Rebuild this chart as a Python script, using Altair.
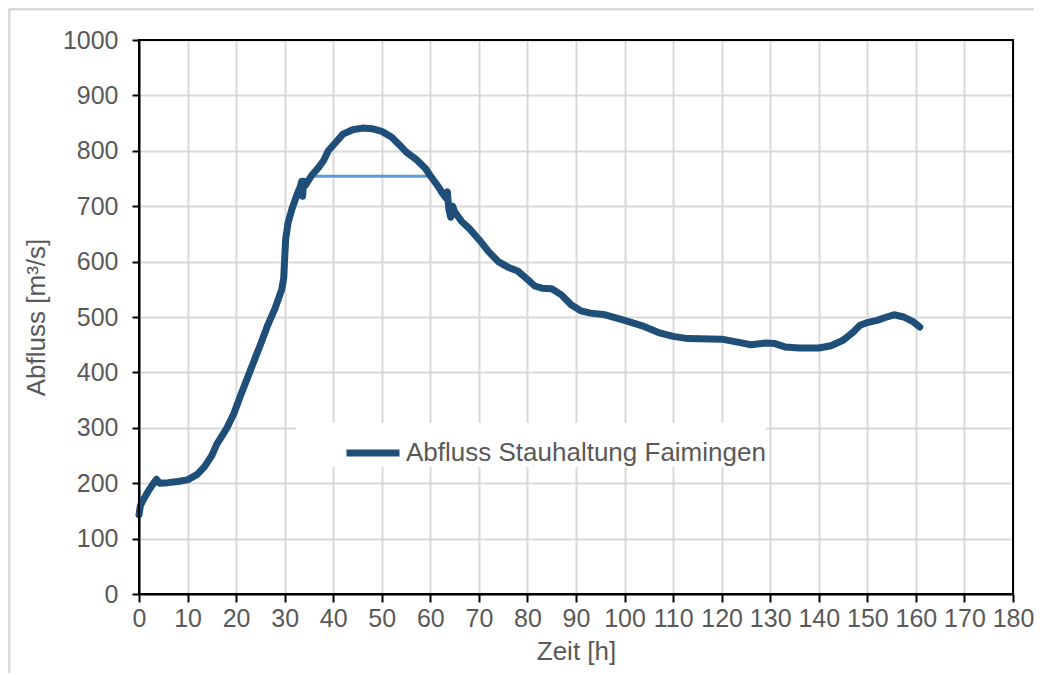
import altair as alt
import pandas as pd

# Hydrograph values
zeit_h = [0, 0.3, 1.0, 2.0, 3.0, 3.6, 4.2, 6.0, 8.0, 10.0, 12.0, 13.5, 15.0, 16.0, 18.0,
          19.5, 21.0, 23.0, 25.0, 26.5, 28.0, 29.4, 29.8, 30.2, 30.7, 31.5, 32.5, 33.2,
          33.5, 33.7, 33.9, 34.3, 35.5, 37.0, 38.0, 39.0, 40.5, 42.0, 44.0, 46.0, 48.0,
          50.0, 52.0, 53.5, 55.0, 57.0, 59.0, 60.0, 61.5, 62.6, 63.2, 63.5, 63.8, 64.2,
          64.6, 65.0, 66.5, 68.0, 70.0, 72.0, 74.0, 76.0, 78.0, 80.0, 81.5, 83.0, 85.0,
          87.0, 89.0, 91.0, 93.0, 96.0, 100.0, 104.0, 107.0, 110.0, 113.0, 120.0, 123.0,
          126.0, 129.0, 131.0, 133.0, 136.0, 140.0, 142.5, 145.0, 147.0, 148.5, 150.0,
          152.0, 154.0, 155.5, 157.5, 159.5, 160.8]
abfluss = [143, 160, 172, 187, 200, 207, 200, 201, 203, 206, 216, 230, 250, 270, 298,
           325, 360, 405, 450, 485, 515, 550, 570, 640, 670, 695, 720, 735,
           745, 718, 745, 738, 755, 770, 782, 800, 815, 830, 838, 841, 840,
           835, 825, 812, 798, 785, 768, 755, 737, 722, 715, 726, 695, 680,
           700, 690, 672, 660, 640, 618, 600, 590, 583, 568, 556, 552, 551,
           540, 522, 511, 507, 504, 494, 483, 472, 465, 461, 460, 455,
           450, 453, 452, 446, 444, 444, 448, 458, 472, 485, 490,
           494, 500, 504, 500, 491, 482]
series_name = "Abfluss Stauhaltung Faimingen"

# Horizontal reference line
ref_t = [35.4, 59.9]
ref_v = [754, 754]

x_ticks = list(range(0, 181, 10))
y_ticks = list(range(0, 1001, 100))

FONT = "Liberation Sans"
GREY = "#595959"

df = pd.DataFrame({"t": zeit_h, "v": abfluss, "s": series_name})
ref = pd.DataFrame({"t": ref_t, "v": ref_v})
frame = pd.DataFrame({"a": [0]})

xscale = alt.Scale(domain=[0, 180], nice=False)
yscale = alt.Scale(domain=[0, 1000], nice=False)

xaxis = alt.Axis(values=x_ticks, title="Zeit [h]", labelFlush=False, labelOverlap=False,
                 format="d",
                 tickSize=8, tickWidth=2, tickColor="black", domainColor="black",
                 domainWidth=2, labelPadding=4, titlePadding=7,
                 gridColor="#D9D9D9", gridWidth=2)
yaxis = alt.Axis(values=y_ticks, title="Abfluss [m³/s]", labelOverlap=False,
                 format="d",
                 tickSize=7, tickWidth=2, tickColor="black", domainColor="black",
                 domainWidth=2, labelPadding=14, titlePadding=13,
                 gridColor="#D9D9D9", gridWidth=2)

ref_line = alt.Chart(ref).mark_line(color="#5B9BD5", strokeWidth=3).encode(
    x=alt.X("t:Q", scale=xscale, axis=xaxis),
    y=alt.Y("v:Q", scale=yscale, axis=yaxis),
)

main_line = alt.Chart(df).mark_line(strokeWidth=7, strokeCap="round", strokeJoin="round").encode(
    x=alt.X("t:Q", scale=xscale),
    y=alt.Y("v:Q", scale=yscale),
    order="t:Q",
    color=alt.Color("s:N", scale=alt.Scale(domain=[series_name], range=["#1F4E79"]),
                    legend=alt.Legend(title=None, orient="none", legendX=157, legendY=383,
                                      padding=0, fillColor="white", symbolType="stroke",
                                      symbolSize=2809, symbolStrokeWidth=7, symbolOffset=47,
                                      labelOffset=3, labelFontSize=26, labelFont=FONT,
                                      labelColor=GREY, labelLimit=700,
                                      labelExpr="datum.label + '    '")),
)

plot_frame = alt.Chart(frame).mark_rect(fill=None, stroke="black", strokeWidth=2).encode(
    x=alt.datum(0, scale=xscale), x2=alt.datum(180),
    y=alt.datum(0, scale=yscale), y2=alt.datum(1000),
)

outer_top = alt.Chart(frame).mark_rule(color="#D9D9D9", strokeWidth=3).encode(
    x=alt.value(-130), x2=alt.value(1500), y=alt.value(-31),
)
outer_left = alt.Chart(frame).mark_rule(color="#D9D9D9", strokeWidth=3).encode(
    x=alt.value(-130), y=alt.value(-31), y2=alt.value(1500),
)

chart = alt.layer(ref_line, main_line, plot_frame, outer_top, outer_left).properties(
    width=874, height=554,
    autosize=alt.AutoSizeParams(type="none"),
    padding={"left": 131, "top": 32, "right": 21, "bottom": 79},
    background="white",
).configure_view(stroke=None).configure_axis(
    labelFont=FONT, titleFont=FONT, labelFontSize=25, titleFontSize=26,
    labelColor=GREY, titleColor=GREY, titleFontWeight="normal",
)

chart.save("out.html", embed_options={"renderer": "svg", "actions": False})
